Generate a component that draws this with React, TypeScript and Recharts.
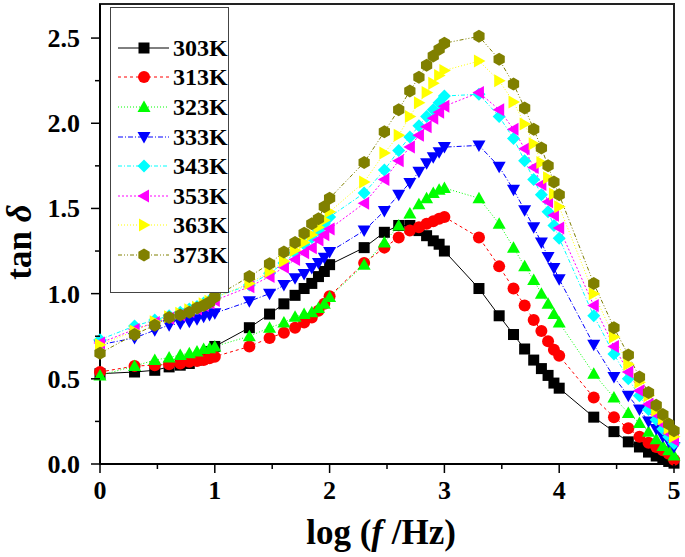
import React from "react";
import {
  LineChart,
  Line,
  XAxis,
  YAxis,
  Legend,
  ReferenceArea,
} from "recharts";

// log10 of 1..10 x decade, 10^0 .. 10^5 Hz
const logF = [
  0, 0.301, 0.477, 0.602, 0.699, 0.778, 0.845, 0.903, 0.954, 1,
  1.301, 1.477, 1.602, 1.699, 1.778, 1.845, 1.903, 1.954, 2,
  2.301, 2.477, 2.602, 2.699, 2.778, 2.845, 2.903, 2.954, 3,
  3.301, 3.477, 3.602, 3.699, 3.778, 3.845, 3.903, 3.954, 4,
  4.301, 4.477, 4.602, 4.699, 4.778, 4.845, 4.903, 4.954, 5,
];

const t303 = [
  0.53, 0.54, 0.55, 0.57, 0.58, 0.59, 0.61, 0.63, 0.66, 0.69,
  0.8, 0.88, 0.94, 0.99, 1.03, 1.06, 1.1, 1.13, 1.17,
  1.27, 1.36, 1.4, 1.4, 1.37, 1.34, 1.31, 1.29, 1.25,
  1.03, 0.87, 0.76, 0.675, 0.61, 0.56, 0.52, 0.475, 0.445,
  0.275, 0.19, 0.13, 0.1, 0.07, 0.047, 0.03, 0.015, 0.005,
];
const t313 = [
  0.54, 0.575, 0.58, 0.585, 0.59, 0.6, 0.605, 0.61, 0.62, 0.63,
  0.69, 0.74, 0.77, 0.8, 0.83, 0.86, 0.9, 0.94, 0.985,
  1.18, 1.27, 1.33, 1.37, 1.39, 1.41, 1.425, 1.44, 1.45,
  1.33, 1.16, 1.03, 0.93, 0.845, 0.78, 0.72, 0.67, 0.635,
  0.39, 0.275, 0.21, 0.16, 0.125, 0.1, 0.08, 0.06, 0.025,
];
const t323 = [
  0.52, 0.575, 0.61, 0.625, 0.64, 0.65, 0.66, 0.675, 0.68, 0.69,
  0.75, 0.8, 0.83, 0.865, 0.88, 0.89, 0.915, 0.94, 0.98,
  1.17, 1.3, 1.4, 1.47, 1.525, 1.56, 1.59, 1.61, 1.62,
  1.56, 1.41, 1.27, 1.16, 1.08, 1.0, 0.94, 0.88, 0.83,
  0.53, 0.39, 0.3, 0.24, 0.19, 0.145, 0.105, 0.08, 0.05,
];
const t333 = [
  0.7, 0.74, 0.785, 0.815, 0.825, 0.835, 0.85, 0.865, 0.875, 0.885,
  0.955, 1.0, 1.05, 1.09, 1.115, 1.15, 1.18, 1.21, 1.245,
  1.37, 1.485, 1.58, 1.65, 1.715, 1.765, 1.8, 1.83, 1.86,
  1.87, 1.745, 1.61, 1.49, 1.39, 1.3, 1.215, 1.15, 1.085,
  0.7, 0.51, 0.4, 0.32, 0.25, 0.205, 0.16, 0.13, 0.1,
];
const t343 = [
  0.73, 0.81, 0.845, 0.87, 0.89, 0.91, 0.925, 0.945, 0.96, 0.98,
  1.05, 1.12, 1.18, 1.24, 1.29, 1.33, 1.37, 1.41, 1.45,
  1.59, 1.725, 1.84, 1.92, 1.985, 2.04, 2.08, 2.12, 2.16,
  2.17, 2.04, 1.91, 1.78, 1.67, 1.58, 1.48, 1.4, 1.325,
  0.87, 0.645, 0.5, 0.4, 0.32, 0.26, 0.205, 0.16, 0.12,
];
const t353 = [
  0.71, 0.79, 0.83, 0.855, 0.875, 0.895, 0.91, 0.93, 0.945, 0.96,
  1.04, 1.1, 1.155, 1.2, 1.24, 1.27, 1.315, 1.345, 1.38,
  1.53, 1.67, 1.78, 1.86, 1.93, 1.98, 2.03, 2.065, 2.1,
  2.18, 2.08, 1.965, 1.85, 1.74, 1.64, 1.54, 1.46, 1.385,
  0.93, 0.69, 0.54, 0.43, 0.35, 0.29, 0.235, 0.18, 0.14,
];
const t363 = [
  0.7, 0.78, 0.835, 0.865, 0.885, 0.905, 0.92, 0.94, 0.955, 0.975,
  1.06, 1.13, 1.19, 1.255, 1.3, 1.345, 1.39, 1.43, 1.48,
  1.655, 1.825, 1.93, 2.04, 2.12, 2.18, 2.235, 2.28, 2.31,
  2.365, 2.25, 2.125, 1.995, 1.88, 1.77, 1.68, 1.585, 1.51,
  1.0, 0.745, 0.585, 0.48, 0.4, 0.315, 0.265, 0.21, 0.16,
];
const t373 = [
  0.65, 0.76, 0.815, 0.86, 0.875, 0.89, 0.915, 0.93, 0.95, 0.98,
  1.1, 1.175, 1.245, 1.3, 1.355, 1.41, 1.44, 1.51, 1.56,
  1.77, 1.95, 2.08, 2.19, 2.27, 2.34, 2.395, 2.435, 2.47,
  2.51, 2.375, 2.23, 2.09, 1.965, 1.855, 1.75, 1.655, 1.58,
  1.06, 0.8, 0.64, 0.51, 0.42, 0.345, 0.29, 0.235, 0.195,
];

const xTicks = [0, 0.5, 1, 1.5, 2, 2.5, 3, 3.5, 4, 4.5, 5];
const yTicks = [0, 0.25, 0.5, 0.75, 1, 1.25, 1.5, 1.75, 2, 2.25, 2.5];

type Shape = "square" | "circle" | "up" | "down" | "diamond" | "left" | "right" | "hex";

const series: { key: string; name: string; color: string; dash?: string; shape: Shape; values: number[] }[] = [
  { key: "s303", name: "303K", color: "#000000", shape: "square", values: t303 },
  { key: "s313", name: "313K", color: "#ff0000", dash: "3 3", shape: "circle", values: t313 },
  { key: "s323", name: "323K", color: "#00ff00", dash: "1 2", shape: "up", values: t323 },
  { key: "s333", name: "333K", color: "#0000ff", dash: "5 2 1 2", shape: "down", values: t333 },
  { key: "s343", name: "343K", color: "#00ffff", dash: "4 2 1 2", shape: "diamond", values: t343 },
  { key: "s353", name: "353K", color: "#ff00ff", dash: "2 2", shape: "left", values: t353 },
  { key: "s363", name: "363K", color: "#ffff00", dash: "1 2", shape: "right", values: t363 },
  { key: "s373", name: "373K", color: "#808000", dash: "4 2 1 2 1 2", shape: "hex", values: t373 },
];

const data = logF.map((x, i) => {
  const row: Record<string, number> = { x };
  series.forEach((s) => (row[s.key] = s.values[i]));
  return row;
});

const FONT = "'Liberation Serif', 'Times New Roman', serif";

function Marker({ cx, cy, shape, color }: { cx: number; cy: number; shape: Shape; color: string }) {
  const r = 6.5;
  let pts = "";
  switch (shape) {
    case "square":
      return <rect x={cx - 5.5} y={cy - 5.5} width={11} height={11} fill={color} />;
    case "circle":
      return <circle cx={cx} cy={cy} r={6} fill={color} />;
    case "up":
      pts = `${cx},${cy - r} ${cx + r},${cy + 5} ${cx - r},${cy + 5}`;
      break;
    case "down":
      pts = `${cx},${cy + r} ${cx + r},${cy - 5} ${cx - r},${cy - 5}`;
      break;
    case "diamond":
      pts = `${cx},${cy - r} ${cx + r},${cy} ${cx},${cy + r} ${cx - r},${cy}`;
      break;
    case "left":
      pts = `${cx - r},${cy} ${cx + 5},${cy - r} ${cx + 5},${cy + r}`;
      break;
    case "right":
      pts = `${cx + r},${cy} ${cx - 5},${cy - r} ${cx - 5},${cy + r}`;
      break;
    case "hex":
      pts = [0, 1, 2, 3, 4, 5]
        .map((k) => {
          const a = (Math.PI / 3) * k + Math.PI / 2;
          return `${cx + r * Math.cos(a)},${cy + r * Math.sin(a)}`;
        })
        .join(" ");
      break;
  }
  return <polygon points={pts} fill={color} />;
}

const XTick = (props: any) => {
  const { x, y, payload } = props;
  const major = Number.isInteger(payload.value);
  return (
    <g>
      <line x1={x} x2={x} y1={y} y2={y + (major ? 9 : 5)} stroke="#000" strokeWidth={1.5} />
      {major && (
        <text x={x} y={y + 35} textAnchor="middle" fontFamily={FONT} fontWeight="bold" fontSize={26} fill="#000">
          {payload.value}
        </text>
      )}
    </g>
  );
};

const YTick = (props: any) => {
  const { x, y, payload } = props;
  const major = Math.abs(payload.value * 2 - Math.round(payload.value * 2)) < 1e-6;
  return (
    <g>
      <line x1={x} x2={x - (major ? 9 : 5)} y1={y} y2={y} stroke="#000" strokeWidth={1.5} />
      {major && (
        <text x={x - 20} y={y + 9} textAnchor="end" fontFamily={FONT} fontWeight="bold" fontSize={26} fill="#000">
          {payload.value.toFixed(1)}
        </text>
      )}
    </g>
  );
};

const renderLegend = () => (
  <div
    style={{
      border: "1.5px solid #444",
      background: "#fff",
      width: 117,
      height: 259,
      boxSizing: "content-box",
      paddingTop: 25,
      fontFamily: FONT,
    }}
  >
    {series.map((s) => (
      <div key={s.key} style={{ display: "flex", alignItems: "center", height: 29.6 }}>
        <svg width={62} height={20} style={{ flex: "none" }}>
          <line x1={7} x2={58} y1={10} y2={10} stroke={s.color} strokeWidth={1} strokeDasharray={s.dash} />
          <Marker cx={33} cy={10} shape={s.shape} color={s.color} />
        </svg>
        <span style={{ fontWeight: "bold", fontSize: 24, lineHeight: "20px", color: "#000" }}>{s.name}</span>
      </div>
    ))}
  </div>
);

export default function App() {
  return (
    <div style={{ position: "absolute", left: 0, top: 0, background: "#fff" }}>
      <LineChart width={685} height={557} data={data} margin={{ top: 4, right: 11, left: 0, bottom: 0 }}>
        <ReferenceArea x1={0} x2={5} y1={0} y2={2.7} fill="none" stroke="#222" strokeWidth={2} ifOverflow="visible" />
        <XAxis
          dataKey="x"
          type="number"
          domain={[0, 5]}
          ticks={xTicks}
          interval={0}
          height={93}
          tickSize={0}
          tickMargin={0}
          tickLine={false}
          axisLine={{ stroke: "#000", strokeWidth: 2 }}
          tick={<XTick />}
          label={{
            content: (p: any) => {
              const vb = p.viewBox;
              return (
                <text x={vb.x + vb.width / 2 - 6} y={vb.y + 80} textAnchor="middle" fontFamily={FONT} fontWeight="bold" fontSize={35} fill="#000">
                  log (<tspan fontStyle="italic">f</tspan> /Hz)
                </text>
              );
            },
          }}
        />
        <YAxis
          type="number"
          domain={[0, 2.7]}
          ticks={yTicks}
          interval={0}
          width={100}
          tickSize={0}
          tickMargin={0}
          tickLine={false}
          axisLine={{ stroke: "#000", strokeWidth: 2 }}
          tick={<YTick />}
          label={{
            content: () => (
              <text
                x={0}
                y={0}
                transform="translate(31,242) rotate(-90)"
                textAnchor="middle"
                fontFamily={FONT}
                fontWeight="bold"
                fontSize={35}
                fill="#000"
              >
                tan <tspan fontStyle="italic">δ</tspan>
              </text>
            ),
          }}
        />
        <Legend
          layout="vertical"
          align="center"
          verticalAlign="middle"
          content={renderLegend}
          wrapperStyle={{ left: 110, top: 7, width: 120, height: 262 }}
        />
        {series.map((s) => (
          <Line
            key={s.key}
            dataKey={s.key}
            name={s.name}
            stroke={s.color}
            strokeWidth={1}
            strokeDasharray={s.dash}
            isAnimationActive={false}
            activeDot={false}
            dot={(p: any) => <Marker key={`${s.key}-${p.index}`} cx={p.cx} cy={p.cy} shape={s.shape} color={s.color} />}
          />
        ))}
      </LineChart>
    </div>
  );
}
